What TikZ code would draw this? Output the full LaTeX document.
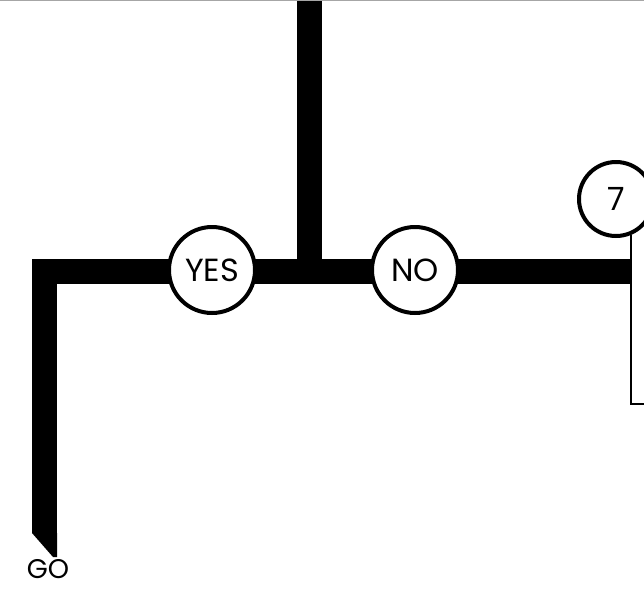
\documentclass[tikz,border=0pt]{standalone}
\usepackage{fontspec}
\setmainfont{Poppins}
\usetikzlibrary{positioning, backgrounds}

\begin{document}
\begin{tikzpicture}[
    x=1pt, y=-1pt,
    ring/.style={circle, draw=black, line width=4pt, fill=white, inner sep=0pt,
                 minimum size=86pt, font=\fontsize{32}{32}\selectfont},
    bar/.style={line width=25pt, draw=black, line join=miter},
    wire/.style={line width=2.5pt, draw=black}
]
\useasboundingbox (0,0) rectangle (644,589);
\clip (0,0) rectangle (644,589);
\draw[gray!70, line width=1.2pt] (0,0.6) -- (644,0.6);

\node[ring] (yes) at (212,270) {YES};
\node[ring] (no) at (415,270) {NO};
\node[ring, minimum size=74pt] (seven) at (616,199) {7};
\node[anchor=base, inner sep=0pt, font=\fontsize{27}{27}\selectfont] (go) at (48,578) {GO};

\coordinate (top) at (309.5,0);
\coordinate (corner) at (44.5,271.5);
\coordinate (tail) at (44.5,533);
\coordinate (barend) at (632,271.5);
\coordinate (exit) at (650,404);

\begin{scope}[on background layer]
\draw[bar] (tail) -- (corner) -- (barend);
\draw[bar] (top) -- (top |- corner);
\fill ([xshift=-12.5pt]tail) -- ++(25,0) -- ++(0,24) -- ++(-4,0) -- cycle;
\draw[wire] (seven.-67) |- (exit);
\end{scope}
\end{tikzpicture}
\end{document}
